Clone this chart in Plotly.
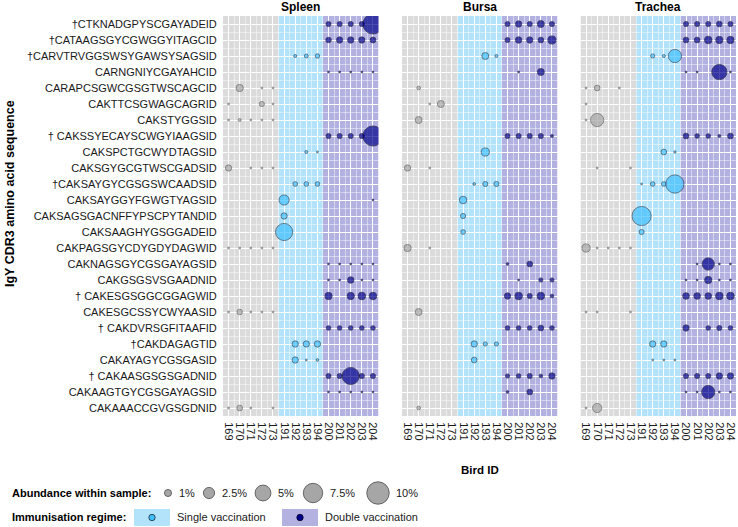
import math

import plotly.graph_objects as go

# Bird IDs grouped by immunisation regime
control_birds = ["169", "170", "171", "172", "173"]
single_birds = ["191", "192", "193", "194"]
double_birds = ["200", "201", "202", "203", "204"]
birds = control_birds + single_birds + double_birds

tissues = ["Spleen", "Bursa", "Trachea"]

sequences = [
    "\u2020CTKNADGPYSCGAYADEID",
    "\u2020CATAAGSGYCGWGGYITAGCID",
    "\u2020CARVTRVGGSWSYGAWSYSAGSID",
    "CARNGNIYCGAYAHCID",
    "CARAPCSGWCGSGTWSCAGCID",
    "CAKTTCSGWAGCAGRID",
    "CAKSTYGGSID",
    "\u2020 CAKSSYECAYSCWGYIAAGSID",
    "CAKSPCTGCWYDTAGSID",
    "CAKSGYGCGTWSCGADSID",
    "\u2020CAKSAYGYCGSGSWCAADSID",
    "CAKSAYGGYFGWGTYAGSID",
    "CAKSAGSGACNFFYPSCPYTANDID",
    "CAKSAAGHYGSGGADEID",
    "CAKPAGSGYCDYGDYDAGWID",
    "CAKNAGSGYCGSGAYAGSID",
    "CAKGSGSVSGAADNID",
    "\u2020 CAKESGSGGCGGAGWID",
    "CAKESGCSSYCWYAASID",
    "\u2020 CAKDVRSGFITAAFID",
    "\u2020CAKDAGAGTID",
    "CAKAYAGYCGSGASID",
    "\u2020 CAKAASGSGSGADNID",
    "CAKAAGTGYCGSGAYAGSID",
    "CAKAAACCGVGSGDNID",
]

# abundance (%) per sequence (rows) and bird (columns); 0 = not found
spleen_pct = [
    [0, 0, 0, 0, 0, 0, 0, 0, 0, .7, .7, .7, .7, 8.7],
    [0, 0, 0, 0, 0, 0, 0, 0, 0, .8, 1, 1, 1, .9],
    [0, 0, 0, 0, 0, 0, .3, .45, .55, 0, 0, 0, 0, 0],
    [0, 0, 0, 0, 0, 0, 0, 0, 0, .15, .15, .15, .15, .15],
    [0, 1.3, 0, .15, .15, 0, 0, 0, 0, 0, 0, 0, 0, 0],
    [.15, 0, 0, .7, .15, 0, 0, 0, 0, 0, 0, 0, 0, 0],
    [.15, .3, .15, .15, .15, 0, 0, 0, 0, 0, 0, 0, 0, 0],
    [0, 0, 0, 0, 0, 0, 0, 0, 0, .7, .7, .7, .7, 8.7],
    [0, 0, 0, 0, 0, 0, 0, .3, .15, 0, 0, 0, 0, 0],
    [1, 0, .15, .15, .15, 0, 0, 0, 0, 0, 0, 0, 0, 0],
    [0, 0, 0, 0, 0, 0, .6, .6, .6, 0, 0, 0, 0, 0],
    [0, 0, 0, 0, 0, 2.4, 0, 0, 0, 0, 0, 0, 0, .15],
    [0, 0, 0, 0, 0, 1, 0, 0, 0, 0, 0, 0, 0, 0],
    [0, 0, 0, 0, 0, 6.4, 0, 0, 0, 0, 0, 0, 0, 0],
    [.15, .15, .15, .15, .15, 0, 0, 0, 0, 0, 0, 0, 0, 0],
    [0, 0, 0, 0, 0, 0, 0, 0, 0, .15, .15, .15, .15, .15],
    [0, 0, 0, 0, 0, 0, 0, 0, 0, .15, .15, 1.05, .15, .15],
    [0, 0, 0, 0, 0, 0, 0, 0, 0, 1.3, 0, 1.3, 1.4, 1.4],
    [.15, .8, .15, .15, .15, 0, 0, 0, 0, 0, 0, 0, 0, 0],
    [0, 0, 0, 0, 0, 0, 0, 0, 0, .6, .6, .6, .6, .6],
    [0, 0, 0, 0, 0, 0, 1, 1, 1, 0, 0, 0, 0, 0],
    [0, 0, 0, 0, 0, 0, 1, .15, .25, 0, 0, 0, 0, 0],
    [0, 0, 0, 0, 0, 0, 0, 0, 0, .7, .7, 6.4, .7, .7],
    [0, 0, 0, 0, 0, 0, 0, 0, 0, .15, .15, .15, .15, .15],
    [.15, .85, .15, 0, .15, 0, 0, 0, 0, 0, 0, 0, 0, 0],
]

bursa_pct = [
    [0, 0, 0, 0, 0, 0, 0, 0, 0, .7, 1, .7, 1.2, .7],
    [0, 0, 0, 0, 0, 0, 0, 0, 0, .7, 1.05, 1, .85, 1.6],
    [0, 0, 0, 0, 0, 0, 0, 1.2, .3, 0, 0, 0, 0, 0],
    [0, 0, 0, 0, 0, 0, 0, 0, 0, 0, .15, 0, 1.2, 0],
    [0, .4, 0, 0, 0, 0, 0, 0, 0, 0, 0, 0, 0, 0],
    [0, 0, .15, 1.2, 0, 0, 0, 0, 0, 0, 0, 0, 0, 0],
    [0, 1.2, 0, 0, 0, 0, 0, 0, 0, 0, 0, 0, 0, 0],
    [0, 0, 0, 0, 0, 0, 0, 0, 0, .7, .7, .7, .7, .3],
    [0, 0, 0, 0, 0, 0, 0, 1.6, 0, 0, 0, 0, 0, 0],
    [1, 0, .15, 0, 0, 0, 0, 0, 0, 0, 0, 0, 0, 0],
    [0, 0, 0, 0, 0, 0, .25, .7, .7, 0, 0, 0, 0, 0],
    [0, 0, 0, 0, 0, 1.4, 0, 0, 0, 0, 0, 0, 0, 0],
    [0, 0, 0, 0, 0, .7, 0, 0, 0, 0, 0, 0, 0, 0],
    [0, 0, 0, 0, 0, .6, 0, 0, 0, 0, 0, 0, 0, 0],
    [1.3, 0, .15, 0, 0, 0, 0, 0, 0, 0, 0, 0, 0, 0],
    [0, 0, 0, 0, 0, 0, 0, 0, 0, .25, 0, .85, 0, 0],
    [0, 0, 0, 0, 0, 0, 0, 0, 0, 0, .15, 0, .5, .5],
    [0, 0, 0, 0, 0, 0, 0, 0, 0, 1, 1.4, .7, 1.4, .4],
    [0, 1.2, 0, 0, 0, 0, 0, 0, 0, 0, 0, 0, 0, 0],
    [0, 0, 0, 0, 0, 0, 0, 0, 0, .6, .6, .6, .85, .6],
    [0, 0, 0, 0, 0, 0, 1, .5, .5, 0, 0, 0, 0, 0],
    [0, 0, 0, 0, 0, 0, .85, 0, 0, 0, 0, 0, 0, 0],
    [0, 0, 0, 0, 0, 0, 0, 0, 0, .5, .6, .7, .4, 1],
    [0, 0, 0, 0, 0, 0, 0, 0, 0, .25, 0, .85, 0, 0],
    [0, .4, 0, 0, 0, 0, 0, 0, 0, 0, 0, 0, 0, 0],
]

trachea_pct = [
    [0, 0, 0, 0, 0, 0, 0, 0, 0, .7, .7, .7, .85, .7],
    [0, 0, 0, 0, 0, 0, 0, 0, 0, .85, .85, 1.4, 1.3, 1.3],
    [0, 0, 0, 0, 0, 0, .5, .3, 3.9, 0, 0, 0, 0, 0],
    [0, 0, 0, 0, 0, 0, 0, 0, 0, .15, .15, 0, 5.1, .15],
    [.15, .85, 0, .15, 0, 0, 0, 0, 0, 0, 0, 0, 0, 0],
    [.15, 0, 0, 0, 0, 0, 0, 0, 0, 0, 0, 0, 0, 0],
    [.15, 3.9, 0, 0, 0, 0, 0, 0, 0, 0, 0, 0, 0, 0],
    [0, 0, 0, 0, 0, 0, 0, 0, 0, .85, .6, .6, .3, .85],
    [0, 0, 0, 0, 0, 0, 0, .85, .2, 0, 0, 0, 0, 0],
    [0, .15, 0, 0, .15, 0, 0, 0, 0, 0, 0, 0, 0, 0],
    [0, 0, 0, 0, 0, .15, .6, .6, 7.2, 0, 0, 0, 0, 0],
    [0, 0, 0, 0, 0, 0, 0, 0, 0, 0, 0, 0, 0, 0],
    [0, 0, 0, 0, 0, 7.9, 0, 0, 0, 0, 0, 0, 0, 0],
    [0, 0, 0, 0, 0, .7, 0, 0, 0, 0, 0, 0, 0, 0],
    [1.6, .15, .15, .15, .15, 0, 0, 0, 0, 0, 0, 0, 0, 0],
    [0, 0, 0, 0, 0, 0, 0, 0, 0, 0, .15, 3.4, .15, .15],
    [0, 0, 0, 0, 0, 0, 0, 0, 0, .15, .15, 1.3, .15, .15],
    [0, 0, 0, 0, 0, 0, 0, 0, 0, 1.1, 1.1, 1.1, 1.4, 1.4],
    [.15, .15, 0, 0, .15, 0, 0, 0, 0, 0, 0, 0, 0, 0],
    [0, 0, 0, 0, 0, 0, 0, 0, 0, 1, 0, .6, .7, .6],
    [0, 0, 0, 0, 0, 0, 1, 1, 0, 0, 0, 0, 0, 0],
    [0, 0, 0, 0, 0, 0, .15, .15, .15, 0, 0, 0, 0, 0],
    [0, 0, 0, 0, 0, 0, 0, 0, 0, .7, .7, .7, 1, 1],
    [0, 0, 0, 0, 0, 0, 0, 0, 0, .15, .15, 3.9, .15, .15],
    [.15, 2, 0, 0, 0, 0, 0, 0, 0, 0, 0, 0, 0, 0],
]

legend_pct = [1, 2.5, 5, 7.5, 10]
legend_labels = ["1%", "2.5%", "5%", "7.5%", "10%"]
regime_labels = ["Single vaccination", "Double vaccination"]

W, H = 738, 527
FONT = "Liberation Sans, Arial, sans-serif"
LINE_W = 0.8

groups = [
    ("control", control_birds, "#dbdbdb", "#a6a6a6", "#4d4d4d"),
    ("single", single_birds, "#b3e3fa", "#40bfff", "#1c2a36"),
    ("double", double_birds, "#b3b1e0", "#00008b", "#000022"),
]


def dot_size(pct):
    return 7.1 * math.sqrt(pct) - LINE_W


def px_x(v):
    return v / W


def px_y(v):
    return 1 - v / H


fig = go.Figure()
panel_left = [223, 402, 580.5]
panel_w = 155.5
y_dom = [px_y(416), px_y(16)]
shapes = []
annotations = []

for i, (tissue, table) in enumerate(zip(tissues, [spleen_pct, bursa_pct, trachea_pct])):
    xa = "x" if i == 0 else f"x{i + 1}"
    ya = "y" if i == 0 else f"y{i + 1}"
    for name, grp, band, fill, edge in groups:
        xs, ys, ss = [], [], []
        for r, row in enumerate(table):
            for b in grp:
                v = row[birds.index(b)]
                if v > 0:
                    xs.append(birds.index(b))
                    ys.append(r)
                    ss.append(dot_size(v))
        fig.add_trace(go.Scatter(
            x=xs, y=ys, mode="markers", xaxis=xa, yaxis=ya, showlegend=False,
            marker=dict(size=ss, color=fill, line=dict(color=edge, width=LINE_W)),
            hoverinfo="skip",
        ))
        shapes.append(dict(
            type="rect", xref=xa, yref=ya, layer="below", line_width=0, fillcolor=band,
            x0=birds.index(grp[0]) - 0.5, x1=birds.index(grp[-1]) + 0.5,
            y0=-0.5, y1=len(sequences) - 0.5,
        ))

    key = "" if i == 0 else str(i + 1)
    fig.layout["xaxis" + key] = dict(
        domain=[px_x(panel_left[i]), px_x(panel_left[i] + panel_w)], anchor=ya,
        range=[-0.5, len(birds) - 0.5], tickmode="array",
        tickvals=list(range(len(birds))), ticktext=birds, tickangle=90,
        tickfont=dict(size=11, color="#1a1a1a", family=FONT),
        ticks="outside", ticklen=3, tickcolor="rgba(0,0,0,0)",
        showgrid=True, gridcolor="white", gridwidth=1, zeroline=False,
        minor=dict(tickmode="linear", tick0=0.5, dtick=1, showgrid=True,
                   gridcolor="rgba(255,255,255,0.45)", gridwidth=0.5),
        fixedrange=True,
    )
    fig.layout["yaxis" + key] = dict(
        domain=y_dom, anchor=xa, range=[len(sequences) - 0.5, -0.5], tickmode="array",
        tickvals=list(range(len(sequences))), ticktext=sequences,
        showticklabels=(i == 0),
        tickfont=dict(size=11, color="#1a1a1a", family=FONT),
        ticks="outside", ticklen=3, tickcolor="rgba(0,0,0,0)",
        showgrid=True, gridcolor="white", gridwidth=1, zeroline=False,
        minor=dict(tickmode="linear", tick0=0.5, dtick=1, showgrid=True,
                   gridcolor="rgba(255,255,255,0.45)", gridwidth=0.5),
        fixedrange=True,
    )
    annotations.append(dict(
        text=f"<b>{tissue}</b>", xref="paper", yref="paper",
        x=px_x(panel_left[i] + panel_w / 2), y=px_y(7), showarrow=False,
        xanchor="center", yanchor="middle", font=dict(size=12, color="black"),
    ))

# axis titles
annotations.append(dict(
    text="<b>Bird ID</b>", xref="paper", yref="paper", x=px_x(480), y=px_y(470),
    showarrow=False, xanchor="center", yanchor="middle", font=dict(size=11.5, color="black"),
))
annotations.append(dict(
    text="<b>IgY CDR3 amino acid sequence</b>", xref="paper", yref="paper",
    x=px_x(10), y=px_y(194), textangle=-90, showarrow=False,
    xanchor="center", yanchor="middle", font=dict(size=12.5, color="black"),
))

# abundance legend
annotations.append(dict(
    text="<b>Abundance within sample:</b>", xref="paper", yref="paper", x=px_x(10),
    y=px_y(493), showarrow=False, xanchor="left", yanchor="middle",
    font=dict(size=11, color="black"),
))
leg_cx = [168, 209, 263, 313, 378]
for cx, pct, lab in zip(leg_cx, legend_pct, legend_labels):
    r = (7.1 * math.sqrt(pct)) / 2
    shapes.append(dict(
        type="circle", xref="paper", yref="paper", xsizemode="pixel", ysizemode="pixel",
        xanchor=px_x(cx), yanchor=px_y(493), x0=-r, x1=r, y0=-r, y1=r,
        fillcolor="#a6a6a6", line=dict(color="#4d4d4d", width=LINE_W), layer="above",
    ))
    annotations.append(dict(
        text=lab, xref="paper", yref="paper", x=px_x(cx + r + 5), y=px_y(493),
        showarrow=False, xanchor="left", yanchor="middle", font=dict(size=11, color="#1a1a1a"),
    ))

# regime legend
annotations.append(dict(
    text="<b>Immunisation regime:</b>", xref="paper", yref="paper", x=px_x(10),
    y=px_y(517), showarrow=False, xanchor="left", yanchor="middle",
    font=dict(size=11, color="black"),
))
for x0, (name, grp, band, fill, edge), lab in zip([134, 282], groups[1:], regime_labels):
    shapes.append(dict(
        type="rect", xref="paper", yref="paper", x0=px_x(x0), x1=px_x(x0 + 36),
        y0=px_y(526), y1=px_y(509), fillcolor=band, line_width=0, layer="above",
    ))
    r = 3.2
    shapes.append(dict(
        type="circle", xref="paper", yref="paper", xsizemode="pixel", ysizemode="pixel",
        xanchor=px_x(x0 + 18), yanchor=px_y(517.5), x0=-r, x1=r, y0=-r, y1=r,
        fillcolor=fill, line=dict(color=edge, width=LINE_W), layer="above",
    ))
    annotations.append(dict(
        text=lab, xref="paper", yref="paper", x=px_x(x0 + 41), y=px_y(517),
        showarrow=False, xanchor="left", yanchor="middle", font=dict(size=11, color="#1a1a1a"),
    ))

fig.update_layout(
    width=W, height=H, margin=dict(l=0, r=0, t=0, b=0),
    paper_bgcolor="white", plot_bgcolor="white",
    font=dict(family=FONT, size=11, color="black"),
    shapes=shapes, annotations=annotations, showlegend=False,
)

# drop the default page margin so the figure sits at the window's top-left corner
fig.write_html(
    "out.html",
    config={"displayModeBar": False},
    post_script="document.body.style.margin = '0';",
)
